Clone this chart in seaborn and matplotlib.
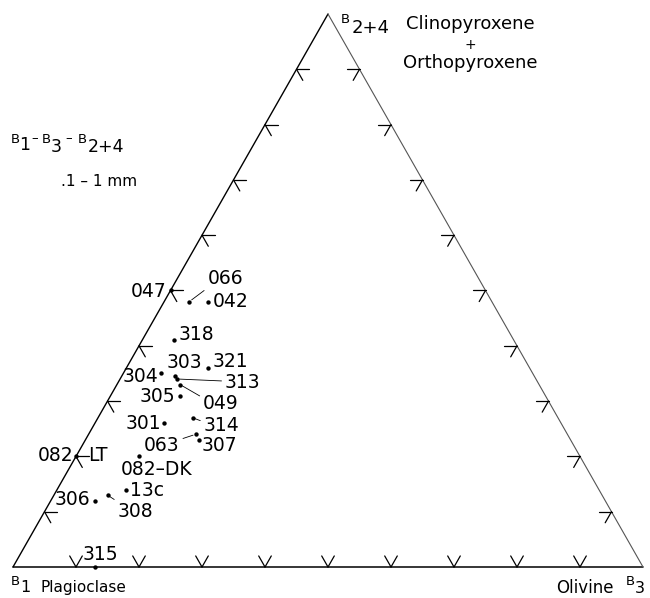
import numpy as np
import pandas as pd
import matplotlib
matplotlib.use("Agg")
import matplotlib.pyplot as plt
import matplotlib.transforms as mtransforms
import seaborn as sns

# ---------------- data (percent of B1, B3, B2+4) ----------------
sample_ids = ["047", "066", "042", "318", "321", "303", "313", "049", "304", "305",
              "301", "314", "063", "307", "082-DK", "082-LT", "13c", "308", "306", "315"]
plagioclase_b1 = [50, 48, 45, 54, 51, 57, 57, 57, 59, 58,
                  63, 58, 59, 59, 70, 80, 75, 78.5, 81, 87]
olivine_b3 = [0, 4, 7, 5, 13, 8.5, 9, 10, 6, 11,
              11, 15, 17, 18, 10, 0, 11, 8.5, 7, 13]
pyroxene_b24 = [50, 48, 48, 41, 36, 34.5, 34, 33, 35, 31,
                26, 27, 24, 23, 20, 20, 14, 13, 12, 0]
grid_ticks = [10, 20, 30, 40, 50, 60, 70, 80, 90]

# ---------------- layout / style ----------------
sns.set_style("white")
plt.rcParams['font.family'] = ['DejaVu Sans']

W, H = 650, 598
fig = plt.figure(figsize=(W / 100, H / 100), dpi=100)
ax = fig.add_axes([0, 0, 1, 1])
ax.set_xlim(-13 / 630, 1 + 7 / 630)
ax.set_ylim(-31 / 553, 1 + 14 / 553)
ax.axis('off')


def tern(b1, b3, b2):
    b1, b3, b2 = (np.asarray(v, dtype=float) for v in (b1, b3, b2))
    s = b1 + b3 + b2
    return (b3 + b2 / 2) / s, b2 / s


df = pd.DataFrame({"id": sample_ids, "B1": plagioclase_b1,
                   "B3": olivine_b3, "B24": pyroxene_b24})
df["x"], df["y"] = tern(df["B1"], df["B3"], df["B24"])

# triangle frame
cx, cy = tern([100, 0, 0], [0, 100, 0], [0, 0, 100])   # B1, B3, B2+4
ax.plot([cx[0], cx[2]], [cy[0], cy[2]], color="black", lw=1.0, solid_capstyle="round")
ax.plot([cx[0], cx[1]], [cy[0], cy[1]], color="black", lw=1.1)
ax.plot([cx[1], cx[2]], [cy[1], cy[2]], color="#555555", lw=0.8)

# ternary ticks
d = 2.0
tick_kw = dict(color="black", lw=0.9)
for t in grid_ticks:
    # bottom edge (B1-B3): V marks
    p = tern([100 - t], [t], [0])
    for q in (tern([100 - t - d], [t], [d]), tern([100 - t], [t - d], [d])):
        ax.plot([p[0][0], q[0][0]], [p[1][0], q[1][0]], **tick_kw)
    # left edge (B1-B2+4)
    p = tern([100 - t], [0], [t])
    for q in (tern([100 - t - d], [d], [t]), tern([100 - t], [d], [t - d])):
        ax.plot([p[0][0], q[0][0]], [p[1][0], q[1][0]], **tick_kw)
    # right edge (B3-B2+4)
    p = tern([0], [100 - t], [t])
    for q in (tern([d], [100 - t - d], [t]), tern([d], [100 - t], [t - d])):
        ax.plot([p[0][0], q[0][0]], [p[1][0], q[1][0]], **tick_kw)

# points
sns.scatterplot(data=df, x="x", y="y", color="black", s=10, linewidth=0,
                ax=ax, legend=False, zorder=4)

# label layout: list of (text, dx, dy, ha, relpos-for-leader or None)
label_layout = {
    "047": [("047", -4, -1, "right", None)],
    "066": [("066", 18, 23, "left", (0.0, 0.0))],
    "042": [("042", 4, 0, "left", None)],
    "318": [("318", 5, 6, "left", None)],
    "321": [("321", 4, 6, "left", None)],
    "303": [("303", 9, 14, "center", None)],
    "313": [("313", 48, -4, "left", (0.0, 0.6))],
    "049": [("049", 23, -19, "left", (0.0, 0.8))],
    "304": [("304", -3, -3, "right", None)],
    "305": [("305", -5, -1, "right", None)],
    "301": [("301", -3, 0, "right", None)],
    "314": [("314", 11, -8, "left", (0.0, 0.7))],
    "063": [("063", -16, -11, "right", (1.0, 0.8))],
    "307": [("307", 3, -6, "left", None)],
    "082-DK": [("082\u2013DK", 18, -13, "center", None)],
    "082-LT": [("082", -3, 1, "right", None), ("LT", 12, 1, "left", None)],
    "13c": [("13c", 4, -1, "left", None)],
    "308": [("308", 10, -16, "left", (0.0, 1.0))],
    "306": [("306", -5, 1, "right", None)],
    "315": [("315", -12, 12, "left", None)],
}

for _, row in df.iterrows():
    for text, dx, dy, ha, relpos in label_layout[row["id"]]:
        kw = {}
        if relpos is not None:
            kw["arrowprops"] = dict(arrowstyle="-", lw=0.6, color="black",
                                    relpos=relpos, shrinkA=0, shrinkB=2)
        ax.annotate(text, xy=(row["x"], row["y"]), xytext=(dx, dy),
                    textcoords="offset pixels", ha=ha, va="center",
                    fontsize=13.5, color="black", **kw)

# ---------------- text in figure pixel coordinates ----------------
px = mtransforms.Affine2D().scale(1 / W, -1 / H).translate(0, 1) + fig.transFigure


def ftext(x, y, s, size, ha="left", va="baseline"):
    fig.text(x, y, s, fontsize=size, ha=ha, va=va, transform=px, color="black")


# apex label
ftext(341, 23, "B", 9.5)
ftext(352, 33, "2+4", 13)
ftext(470, 29, "Clinopyroxene", 13, ha="center")
ftext(470, 45, "+", 10, ha="center", va="center")
ftext(470, 68, "Orthopyroxene", 13, ha="center")

# title
ftext(11, 143, "B", 9.5)
ftext(19, 150, "1", 12.5)
ftext(31, 142, "\u2013", 9.5)
ftext(42, 143, "B", 9.5)
ftext(51, 152, "3", 12.5)
ftext(65, 142, "\u2013", 9.5)
ftext(78, 143, "B", 9.5)
ftext(88, 152, "2+4", 12.5)
ftext(137, 186, ".1 \u2013 1 mm", 11, ha="right")

# corner labels
ftext(11, 585, "B", 9.5)
ftext(20, 592, "1", 11.5)
ftext(41, 592, "Plagioclase", 11)
ftext(614, 593, "Olivine", 12, ha="right")
ftext(626, 585, "B", 9.5)
ftext(635, 593, "3", 11.5)

fig.savefig("out.png", dpi=100)
